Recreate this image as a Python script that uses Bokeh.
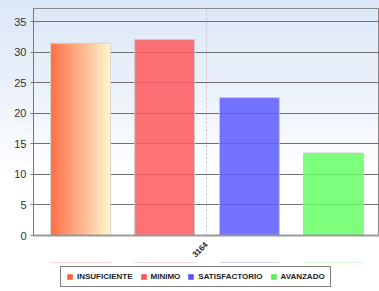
import numpy as np
from math import pi
from bokeh.plotting import figure
from bokeh.layouts import column
from bokeh.models import (FactorRange, Range1d, ColumnDataSource, Legend, LegendItem,
                          FixedTicker)
from bokeh.transform import dodge
from bokeh.embed import file_html
from bokeh.resources import INLINE

# ---- data ----
categories = ["3164"]
series = ["INSUFICIENTE", "MINIMO", "SATISFACTORIO", "AVANZADO"]
values = [31.5, 32.1, 22.6, 13.5]
y_ticks = [0, 5, 10, 15, 20, 25, 30, 35]

# ---- style ----
colors = ["#ff6a3a", "#ff585c", "#5a5aff", "#66ff66"]
legend_colors = ["#ff6633", "#ff5555", "#5555ff", "#55ee55"]
offsets = [-0.364, -0.121, 0.124, 0.367]
bar_w = 0.173
y_top = 37.2
grad_left = (252, 112, 72)
grad_right = (255, 248, 208)


def rgba_image(c0, c1, n):
    t = np.linspace(0, 1, n)
    img = np.zeros((1, n, 4), dtype=np.uint8)
    for k in range(3):
        img[0, :, k] = np.round(c0[k] + (c1[k] - c0[k]) * t).astype(np.uint8)
    img[0, :, 3] = 255
    return img.view(dtype=np.uint32).reshape((1, n))


p = figure(x_range=FactorRange(*categories), y_range=Range1d(0, y_top),
           width=379, height=262, output_backend="svg", toolbar_location=None,
           min_border_left=33, min_border_right=0, min_border_top=8,
           min_border_bottom=22)

p.background_fill_alpha = 0
p.border_fill_alpha = 0
p.styles = {"background": "linear-gradient(to bottom, #dce7f7 0px, #e9f0fa 80px, #f7f9fd 140px, #ffffff 178px, #ffffff 100%)"}

renderers = []
for i, (s, v, c) in enumerate(zip(series, values, colors)):
    src = ColumnDataSource(dict(x=categories, top=[v]))
    alpha = 1.0 if i == 0 else 0.85
    r = p.vbar(x=dodge("x", offsets[i], range=p.x_range), top="top", width=bar_w,
               source=src, fill_color=c, fill_alpha=alpha, line_color="#c8c8c8",
               line_width=1)
    renderers.append(r)
    if i == 0:
        g = rgba_image(grad_left, grad_right, 64)
        p.image_rgba(image=[g], x=[0.5 + offsets[0] - bar_w / 2], y=[0],
                     dw=[bar_w], dh=[v], level="glyph")
        p.vbar(x=dodge("x", offsets[i], range=p.x_range), top="top", width=bar_w,
               source=src, fill_color=None, line_color="#d8d8c8", line_width=1)

# axes
p.yaxis.ticker = FixedTicker(ticks=y_ticks)
p.yaxis.major_label_text_font = "Liberation Sans"
p.yaxis.major_label_text_font_size = "11px"
p.yaxis.major_label_text_color = "#333333"
p.yaxis.major_tick_out = 3
p.yaxis.major_tick_in = 0
p.yaxis.minor_tick_line_color = None
p.yaxis.axis_line_color = "#777777"
p.yaxis.major_tick_line_color = "#777777"
p.yaxis.major_label_standoff = 4

p.xaxis.major_label_orientation = pi / 4
p.xaxis.major_tick_line_color = None
p.xaxis.axis_line_color = "#999999"
p.xaxis.axis_line_width = 2
p.xaxis.major_label_text_font = "Liberation Sans"
p.xaxis.major_label_text_font_size = "8px"
p.xaxis.major_label_text_font_style = "bold"
p.xaxis.major_label_text_color = "#222222"
p.xaxis.major_label_standoff = 2

p.ygrid.grid_line_color = "#707070"
p.ygrid.grid_line_width = 1.2
p.xgrid.grid_line_color = "#c4c4c4"
p.xgrid.grid_line_dash = "2 2"

p.outline_line_color = "#8a8a8a"

# ---- legend strip (same series, drawn far out of view so only the legend shows) ----
lf = figure(width=379, height=29, output_backend="svg", toolbar_location=None,
            min_border=0, x_range=FactorRange(*categories, range_padding=0),
            y_range=Range1d(-200, -100), x_axis_location=None, y_axis_location=None)
lf.grid.visible = False
lf.outline_line_color = None
lf.background_fill_color = "white"
lf.border_fill_color = "white"

items = []
for i, (s, v, c) in enumerate(zip(series, values, legend_colors)):
    src = ColumnDataSource(dict(x=categories, top=[v]))
    rr = lf.vbar(x=dodge("x", offsets[i], range=lf.x_range), top="top", bottom=0,
                 width=bar_w, source=src, fill_color=c, line_color=None)
    items.append(LegendItem(label=s, renderers=[rr]))

legend = Legend(items=items, orientation="horizontal", location=(27, 4),
                label_text_font="Liberation Sans", label_text_font_style="bold",
                label_text_font_size="8px", label_text_color="#222222",
                glyph_width=7, glyph_height=7, label_standoff=4, spacing=7,
                padding=5, margin=0, border_line_color="black", border_line_width=1,
                background_fill_color="white", label_height=9)
lf.add_layout(legend, "center")

layout = column(p, lf, spacing=0)
open("out.html", "w").write(file_html(layout, INLINE))
